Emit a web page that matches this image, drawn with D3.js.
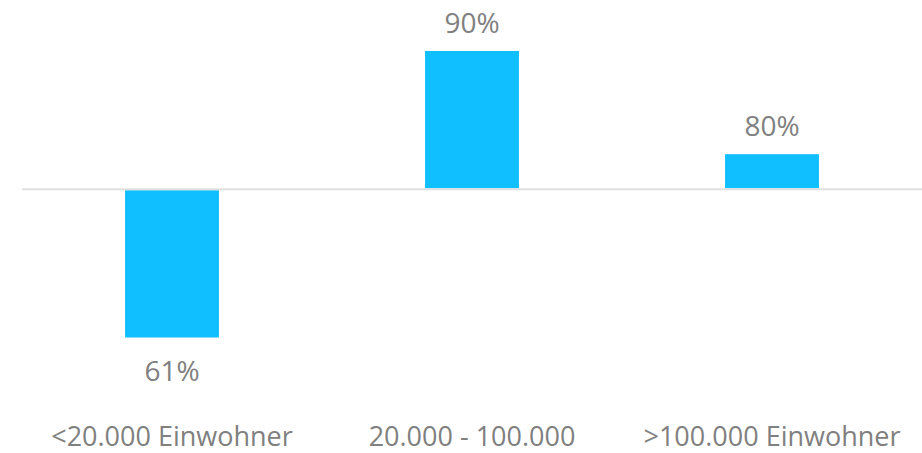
<!DOCTYPE html>
<html lang="de">
<head>
  <meta charset="UTF-8" />
  <title>Einwohner</title>
  <script src="https://d3js.org/d3.v7.min.js"></script>
  <style>
    body {
      margin: 0;
      background: #ffffff;
    }
    .value-label {
      font-family: "Open Sans", sans-serif;
      font-size: 28px;
      fill: #808080;
    }
    .cat-label {
      font-family: "Open Sans", sans-serif;
      font-size: 27px;
      fill: #808080;
    }
  </style>
</head>
<body>
  <div id="chart"></div>
  <script>
    // Kategorien und Werte
    const categories = ["<20.000 Einwohner", "20.000 - 100.000", ">100.000 Einwohner"];
    const shares = [61, 90, 80];           // angezeigte Beschriftung in %
    const deviation = [-14.8, 13.8, 3.5];  // Balkenhöhe relativ zur Grundlinie

    const W = 922, H = 453;
    const margin = { top: 51, right: 0, bottom: 115, left: 22 };

    const svg = d3.select("#chart").append("svg")
      .attr("width", W)
      .attr("height", H);

    const x = d3.scaleBand()
      .domain(categories)
      .range([margin.left, W - margin.right])
      .paddingInner(0.687)
      .paddingOuter(0.3435);

    const y = d3.scaleLinear()
      .domain([d3.min(deviation), d3.max(deviation)])
      .range([H - margin.bottom - 0.5, margin.top]);

    // Balken
    svg.selectAll("rect.bar")
      .data(deviation)
      .enter()
      .append("rect")
      .attr("class", "bar")
      .attr("x", (d, i) => x(categories[i]))
      .attr("width", x.bandwidth())
      .attr("y", d => d >= 0 ? y(d) : y(0) + 1)
      .attr("height", d => d >= 0 ? y(0) - y(d) - 1 : y(d) - y(0) - 1)
      .attr("fill", "#10bfff");

    // Grundlinie
    svg.append("line")
      .attr("x1", margin.left)
      .attr("x2", W)
      .attr("y1", y(0))
      .attr("y2", y(0))
      .attr("stroke", "#e0e0e0")
      .attr("stroke-width", 2);

    // Wertbeschriftung
    svg.selectAll("text.value-label")
      .data(deviation)
      .enter()
      .append("text")
      .attr("class", "value-label")
      .attr("text-anchor", "middle")
      .attr("x", (d, i) => x(categories[i]) + x.bandwidth() / 2)
      .attr("y", d => d >= 0 ? y(d) - 18 : y(d) + 43)
      .text((d, i) => shares[i] + "%");

    // Kategorienachse
    const axis = svg.append("g")
      .attr("transform", `translate(0,${H - 7})`)
      .call(d3.axisBottom(x).tickSize(0).tickPadding(0));
    axis.select(".domain").remove();
    axis.selectAll("text")
      .attr("class", "cat-label")
      .attr("y", 0)
      .attr("dy", 0)
      .attr("fill", null)
      .attr("font-size", null)
      .attr("font-family", null);
  </script>
</body>
</html>
